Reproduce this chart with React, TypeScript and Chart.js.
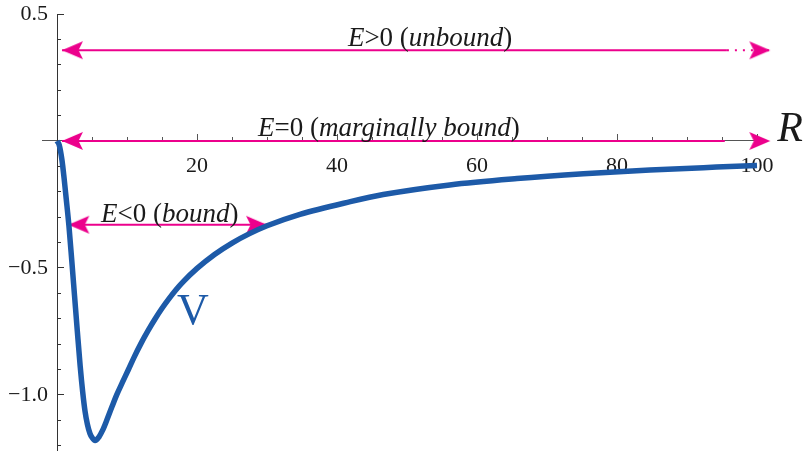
import React, { useEffect, useRef } from 'react';
import { Chart, registerables } from 'chart.js';

Chart.register(...registerables);

// ---- data ----
const R_VALUES = [0, 0.3, 0.7, 1.0, 1.3, 1.7, 2.1, 2.5, 2.9, 3.3, 3.67, 4.0, 4.33, 4.7, 5.0, 5.43, 6.0, 6.5, 7.1, 7.8, 8.52, 9.35, 10.2, 11, 12, 13, 14, 15, 16, 17, 18, 20, 22.5, 25, 27.5, 30.0, 34.7, 41.9, 46.6, 56.1, 65.7, 75.2, 84.7, 94.2, 100];
const V_VALUES = [0, -0.015, -0.075, -0.145, -0.225, -0.335, -0.47, -0.61, -0.75, -0.885, -0.99, -1.065, -1.115, -1.152, -1.168, -1.18, -1.165, -1.14, -1.1, -1.05, -1.0, -0.95, -0.9, -0.852, -0.797, -0.747, -0.701, -0.659, -0.621, -0.586, -0.555, -0.502, -0.447, -0.402, -0.365, -0.334, -0.289, -0.239, -0.211, -0.173, -0.148, -0.129, -0.114, -0.103, -0.097];

const X_MINOR_TICKS = [5, 10, 15, 20, 25, 30, 35, 40, 45, 50, 55, 60, 65, 70, 75, 80, 85, 90, 95, 100];
const X_MAJOR_TICKS = [20, 40, 60, 80, 100];
const X_TICK_LABELS = ['20', '40', '60', '80', '100'];
const Y_MINOR_TICKS = [0.5, 0.4, 0.3, 0.2, 0.1, -0.1, -0.2, -0.3, -0.4, -0.5, -0.6, -0.7, -0.8, -0.9, -1.0, -1.1, -1.2];
const Y_MAJOR_TICKS = [0.5, -0.5, -1.0];
const Y_TICK_LABELS = ['0.5', '\u22120.5', '\u22121.0'];

const ENERGY_LEVELS = [0.357, 0, -0.33];
const ENERGY_LABELS = ['E>0 (unbound)', 'E=0 (marginally bound)', 'E<0 (bound)'];
const ENERGY_R_START = [0.71, 0.71, 1.62];
const ENERGY_R_SOLID_END: (number | null)[] = [95.7, 95.4, null];
const ENERGY_R_END = [101.9, 101.9, 30.0];

const CURVE_LABEL = 'V';
const AXIS_LABEL = 'R';

// ---- styles / layout ----
const X_MIN = -2.15;
const X_MAX = 100;
const Y_MIN = -1.217;
const Y_MAX = 0.5;
const BLUE = '#1d5aa8';
const MAGENTA = '#ec008c';
const AXIS_X = '#555555';
const AXIS_Y = '#333333';
const TEXT = '#1a1a1a';
const SERIF = '"Liberation Serif", "Times New Roman", serif';
const LABEL_SIZE = 27;
const ARROW_TAIL = ['dotted', 'gap', 'none'];
const LABEL_LAYOUT = [
  { r: 53.3, dy: -4 },
  { r: 47.4, dy: -5 },
  { r: 16.1, dy: -3 },
];
const CURVE_LABEL_POS = { r: 19.4, v: -0.72 };
const AXIS_LABEL_POS = { r: 102.9, v: 0 };

function makeArrowHead(color: string): HTMLCanvasElement {
  const c = document.createElement('canvas');
  c.width = 44;
  c.height = 22;
  const g = c.getContext('2d')!;
  g.fillStyle = color;
  g.beginPath();
  g.moveTo(22, 11);
  g.lineTo(1, 2);
  g.lineTo(5.5, 11);
  g.lineTo(1, 20);
  g.closePath();
  g.fill();
  return c;
}

function drawRich(ctx: CanvasRenderingContext2D, label: string, cx: number, baseline: number, size: number) {
  const m = label.match(/^(E)([<>=]0 \()(.+)(\))$/);
  const parts: { t: string; it: boolean }[] = m
    ? [
        { t: m[1], it: true },
        { t: m[2], it: false },
        { t: m[3], it: true },
        { t: m[4], it: false },
      ]
    : [{ t: label, it: false }];
  const fontOf = (it: boolean) => `${it ? 'italic ' : ''}${size}px ${SERIF}`;
  let total = 0;
  const widths = parts.map((p) => {
    ctx.font = fontOf(p.it);
    const w = ctx.measureText(p.t).width;
    total += w;
    return w;
  });
  let x = cx - total / 2;
  ctx.textAlign = 'left';
  ctx.textBaseline = 'alphabetic';
  ctx.fillStyle = TEXT;
  parts.forEach((p, i) => {
    ctx.font = fontOf(p.it);
    ctx.fillText(p.t, x, baseline);
    x += widths[i];
  });
}

const annotationPlugin = {
  id: 'energyAnnotations',
  afterDatasetsDraw(chart: any) {
    const ctx: CanvasRenderingContext2D = chart.ctx;
    const xs = chart.scales.x;
    const ys = chart.scales.y;
    ctx.save();
    ENERGY_LABELS.forEach((label, i) => {
      const lay = LABEL_LAYOUT[i];
      drawRich(ctx, label, xs.getPixelForValue(lay.r), ys.getPixelForValue(ENERGY_LEVELS[i]) + lay.dy, LABEL_SIZE);
    });
    ctx.font = `44px ${SERIF}`;
    ctx.fillStyle = BLUE;
    ctx.textAlign = 'center';
    ctx.textBaseline = 'alphabetic';
    ctx.fillText(CURVE_LABEL, xs.getPixelForValue(CURVE_LABEL_POS.r), ys.getPixelForValue(CURVE_LABEL_POS.v));
    ctx.font = `italic 42px ${SERIF}`;
    ctx.fillStyle = TEXT;
    ctx.textAlign = 'left';
    ctx.fillText(AXIS_LABEL, xs.getPixelForValue(AXIS_LABEL_POS.r), ys.getPixelForValue(AXIS_LABEL_POS.v));
    ctx.restore();
  },
};

const zeroPad = (s: any) => {
  s.paddingLeft = 0;
  s.paddingRight = 0;
  s.paddingTop = 0;
  s.paddingBottom = 0;
};

export default function App() {
  const ref = useRef<HTMLCanvasElement | null>(null);

  useEffect(() => {
    document.body.style.margin = '0';
    if (!ref.current) return;
    const head = makeArrowHead(MAGENTA);

    const arrowSets = ENERGY_LEVELS.map((E, i) => {
      const pts: { x: number; y: number }[] = [{ x: ENERGY_R_START[i], y: E }];
      const mid = ENERGY_R_SOLID_END[i];
      if (mid !== null) pts.push({ x: mid, y: E });
      pts.push({ x: ENERGY_R_END[i], y: E });
      const n = pts.length;
      const tail = ARROW_TAIL[i];
      return {
        type: 'line' as const,
        data: pts,
        borderColor: MAGENTA,
        borderWidth: 2,
        clip: false as any,
        tension: 0,
        pointStyle: pts.map(() => head) as any,
        pointRadius: pts.map((_, k) => (k === 0 || k === n - 1 ? 12 : 0)),
        pointHoverRadius: pts.map((_, k) => (k === 0 || k === n - 1 ? 12 : 0)),
        pointRotation: pts.map((_, k) => (k === 0 ? 180 : 0)),
        segment: {
          borderDash: (c: any) => (tail === 'dotted' && c.p1DataIndex === n - 1 ? [2, 6] : undefined),
          borderColor: (c: any) => (tail === 'gap' && c.p1DataIndex === n - 1 ? 'rgba(0,0,0,0)' : undefined),
        },
        xAxisID: 'x',
        yAxisID: 'y',
      };
    });

    const chart = new Chart(ref.current, {
      type: 'line',
      data: {
        datasets: [
          {
            label: 'V',
            data: R_VALUES.map((r, i) => ({ x: r, y: V_VALUES[i] })),
            borderColor: BLUE,
            borderWidth: 5.5,
            pointRadius: 0,
            pointHoverRadius: 0,
            cubicInterpolationMode: 'monotone',
            clip: false as any,
            xAxisID: 'x',
            yAxisID: 'y',
          },
          ...(arrowSets as any[]),
        ],
      },
      options: {
        responsive: false,
        animation: false,
        devicePixelRatio: 1,
        events: [],
        layout: { padding: { left: 42, top: 11, right: 49, bottom: 0 } },
        plugins: { legend: { display: false }, tooltip: { enabled: false } },
        scales: {
          x: {
            type: 'linear',
            axis: 'x',
            position: { y: 0 } as any,
            min: X_MIN,
            max: X_MAX,
            bounds: 'data',
            grid: { drawOnChartArea: false, drawTicks: true, tickLength: -4, tickColor: AXIS_X, tickWidth: 1 },
            border: { display: true, color: AXIS_X, width: 1 },
            ticks: { display: false, autoSkip: false },
            afterBuildTicks: (s: any) => {
              s.ticks = X_MINOR_TICKS.map((v) => ({ value: v }));
            },
            afterFit: zeroPad,
          },
          xMajor: {
            type: 'linear',
            axis: 'x',
            position: { y: 0 } as any,
            min: X_MIN,
            max: X_MAX,
            bounds: 'data',
            grid: { drawOnChartArea: false, drawTicks: true, tickLength: -7, tickColor: AXIS_X, tickWidth: 1 },
            border: { display: false },
            ticks: {
              display: true,
              autoSkip: false,
              maxRotation: 0,
              minRotation: 0,
              padding: 19,
              color: TEXT,
              font: { family: SERIF, size: 22 },
              callback: (v: any) => {
                const k = X_MAJOR_TICKS.indexOf(Number(v));
                return k >= 0 ? X_TICK_LABELS[k] : '';
              },
            },
            afterBuildTicks: (s: any) => {
              s.ticks = X_MAJOR_TICKS.map((v) => ({ value: v }));
            },
            afterFit: zeroPad,
          },
          y: {
            type: 'linear',
            axis: 'y',
            position: { x: 0 } as any,
            min: Y_MIN,
            max: Y_MAX,
            bounds: 'data',
            grid: { drawOnChartArea: false, drawTicks: true, tickLength: -4, tickColor: AXIS_Y, tickWidth: 1 },
            border: { display: true, color: AXIS_Y, width: 1 },
            ticks: { display: false, autoSkip: false },
            afterBuildTicks: (s: any) => {
              s.ticks = Y_MINOR_TICKS.map((v) => ({ value: v }));
            },
            afterFit: zeroPad,
          },
          yMajor: {
            type: 'linear',
            axis: 'y',
            position: { x: 0 } as any,
            min: Y_MIN,
            max: Y_MAX,
            bounds: 'data',
            grid: { drawOnChartArea: false, drawTicks: true, tickLength: -7, tickColor: AXIS_Y, tickWidth: 1 },
            border: { display: false },
            ticks: { display: false, autoSkip: false },
            afterBuildTicks: (s: any) => {
              s.ticks = Y_MAJOR_TICKS.map((v) => ({ value: v }));
            },
            afterFit: zeroPad,
          },
          yLabels: {
            type: 'linear',
            axis: 'y',
            position: { x: -1.29 } as any,
            min: Y_MIN,
            max: Y_MAX,
            bounds: 'data',
            grid: { display: false },
            border: { display: false },
            ticks: {
              display: true,
              autoSkip: false,
              padding: 0,
              color: TEXT,
              font: { family: SERIF, size: 22 },
              callback: (v: any) => {
                const k = Y_MAJOR_TICKS.findIndex((t) => Math.abs(t - Number(v)) < 1e-9);
                return k >= 0 ? Y_TICK_LABELS[k] : '';
              },
            },
            afterBuildTicks: (s: any) => {
              s.ticks = Y_MAJOR_TICKS.map((v) => ({ value: v }));
            },
            afterFit: zeroPad,
          },
        } as any,
      },
      plugins: [annotationPlugin],
    });
    return () => chart.destroy();
  }, []);

  return (
    <div style={{ position: 'fixed', left: 0, top: 0, width: 806, height: 464, background: '#ffffff' }}>
      <canvas ref={ref} width={806} height={464} style={{ display: 'block', width: 806, height: 464 }} />
    </div>
  );
}
